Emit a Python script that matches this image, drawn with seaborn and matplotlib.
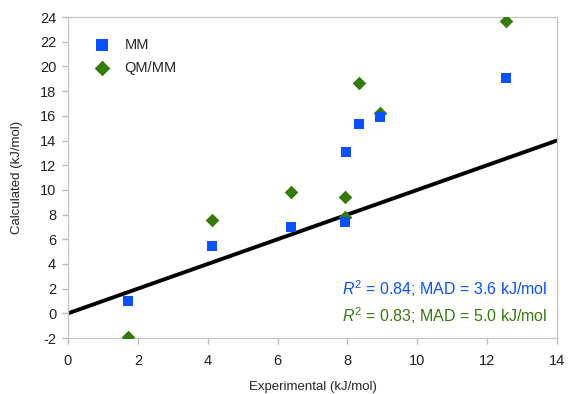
import matplotlib
matplotlib.use("Agg")
import matplotlib.pyplot as plt
import seaborn as sns
import pandas as pd

exp_mm = [1.72, 4.13, 6.39, 7.94, 7.97, 8.34, 8.94, 12.55]
calc_mm = [0.97, 5.43, 6.97, 7.38, 13.06, 15.33, 15.9, 19.06]
exp_qm = [1.72, 4.13, 6.39, 7.94, 7.94, 8.34, 8.94, 12.55]
calc_qm = [-1.95, 7.54, 9.81, 9.4, 7.78, 18.65, 16.2, 23.7]
x_ticks = [0, 2, 4, 6, 8, 10, 12, 14]
y_ticks = [-2, 0, 2, 4, 6, 8, 10, 12, 14, 16, 18, 20, 22, 24]

df_mm = pd.DataFrame({"Experimental": exp_mm, "Calculated": calc_mm, "Method": "MM"})
df_qm = pd.DataFrame({"Experimental": exp_qm, "Calculated": calc_qm, "Method": "QM/MM"})

sns.set_style("white")
plt.rcParams['font.family'] = ['Liberation Sans', 'DejaVu Sans']
plt.rcParams['axes.unicode_minus'] = False
plt.rcParams['mathtext.fontset'] = 'custom'
plt.rcParams['mathtext.it'] = 'Liberation Sans:italic'
plt.rcParams['mathtext.rm'] = 'Liberation Sans'

blue = "#0A50FF"
green = "#367A0A"

fig = plt.figure(figsize=(5.68, 3.94), dpi=100)
ax = fig.add_axes([0.1197, 0.142, 0.8609, 0.8147])

ax.plot([0, 14], [0, 14], color="black", lw=2.8, zorder=1)

# QM/MM drawn first so MM squares sit on top
sns.scatterplot(data=df_qm, x="Experimental", y="Calculated", marker="D", color=green,
                s=48, linewidth=0, ax=ax, zorder=3, label="QM/MM")
sns.scatterplot(data=df_mm, x="Experimental", y="Calculated", marker="s", color=blue,
                s=62, linewidth=0, ax=ax, zorder=4, label="MM")

ax.set_xlim(0, 14)
ax.set_ylim(-2, 24)
ax.set_xticks(x_ticks)
ax.set_yticks(y_ticks)
ax.tick_params(axis="both", labelsize=10.5, length=4.5, width=1, color="#BBBBBB", direction="out",
               bottom=True, left=True, labelcolor="#222222")
ax.tick_params(axis="x", pad=7)
ax.tick_params(axis="y", pad=4)
for s in ax.spines.values():
    s.set_color("#C8C8C8")
    s.set_linewidth(1)

ax.set_xlabel("Experimental (kJ/mol)", fontsize=9.5, labelpad=9)
ax.set_ylabel("Calculated (kJ/mol)", fontsize=9.5, labelpad=12)

handles, labels = ax.get_legend_handles_labels()
order = [labels.index("MM"), labels.index("QM/MM")]
leg = ax.legend([handles[i] for i in order], [labels[i] for i in order],
                loc="upper left", bbox_to_anchor=(0.02, 0.975), frameon=False, fontsize=10.5,
                handletextpad=0.8, labelspacing=0.6, handlelength=1.5, markerscale=1.15)

ax.text(0.98, 0.153, r"$\mathit{R}^{\mathrm{2}}$ = 0.84; MAD = 3.6 kJ/mol", transform=ax.transAxes,
        ha="right", va="center", color=blue, fontsize=11.5)
ax.text(0.98, 0.0685, r"$\mathit{R}^{\mathrm{2}}$ = 0.83; MAD = 5.0 kJ/mol", transform=ax.transAxes,
        ha="right", va="center", color=green, fontsize=11.5)

fig.savefig("out.png", dpi=100)
